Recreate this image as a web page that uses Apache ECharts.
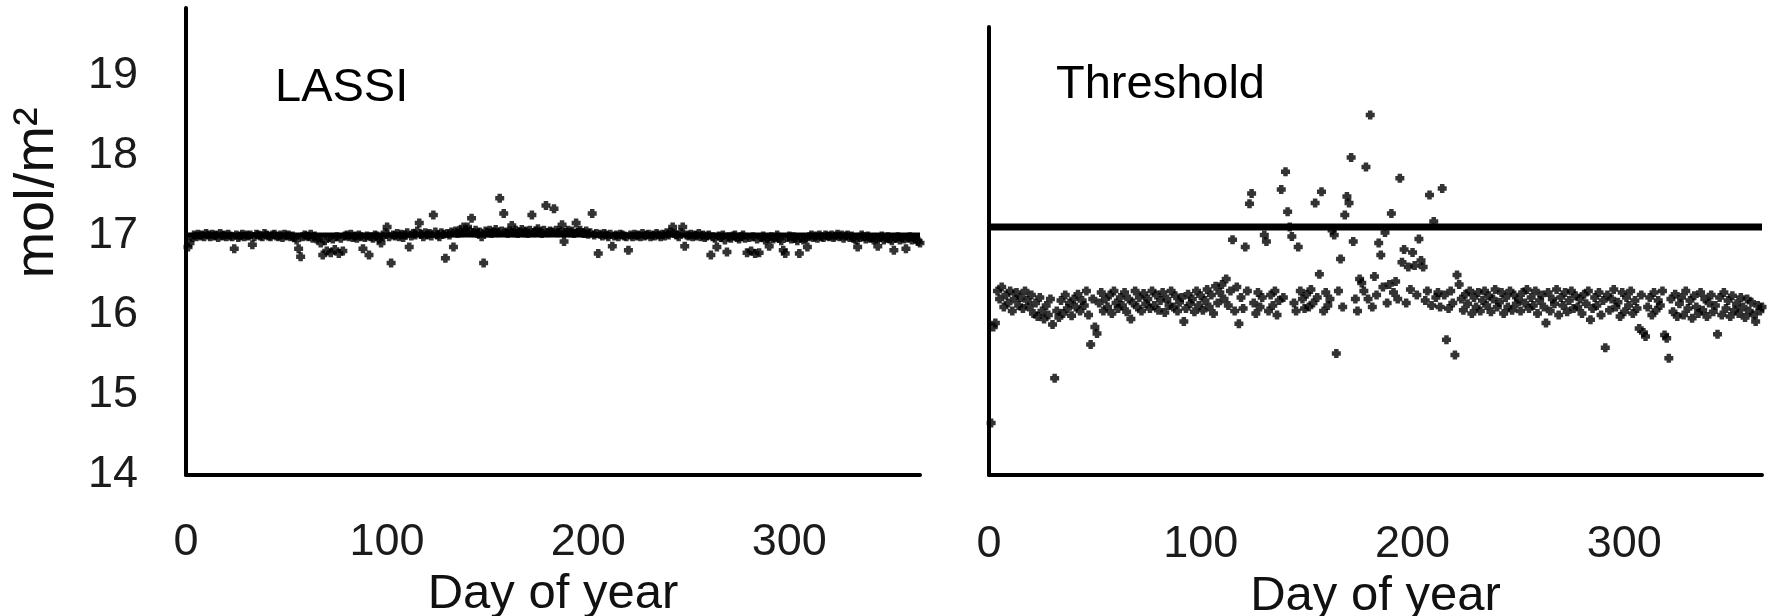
<!DOCTYPE html>
<html>
<head>
<meta charset="utf-8">
<title>LASSI / Threshold</title>
<script src="https://cdn.jsdelivr.net/npm/echarts@6/dist/echarts.min.js"></script>
<style>
  html, body { margin: 0; padding: 0; background: #fff; }
  #chart { width: 1772px; height: 616px; }
</style>
</head>
<body>
<div id="chart"></div>
<script>
// panel titles
var panelNames = ['LASSI', 'Threshold'];
// x axis: day of year, labelled ticks
var dayRange = [0, 365];
var dayTicks = [0, 100, 200, 300];
// y axis (mol/m2), labelled ticks; the right panel's axis line is a bit shorter
var yTicks = [14, 15, 16, 17, 18, 19];
var yRangeLassi = [14, 19.84];
var yRangeThreshold = [14, 19.6];
// horizontal line drawn in each panel
var lineLevels = [17.0, 17.1];

// LASSI, one value per day (day 1..365)
var lassiValues = [
  16.85, 16.9, 16.97, 17.0, 16.98, 17.01, 16.99, 17.0, 16.98, 17.02,
  17.0, 16.98, 17.01, 16.99, 17.0, 16.97, 17.02, 16.99, 17.0, 16.98,
  17.01, 16.99, 16.98, 16.83, 17.0, 16.97, 16.99, 17.01, 16.98, 17.0,
  16.99, 17.0, 16.88, 16.98, 17.01, 17.0, 16.99, 16.98, 17.02, 17.0,
  16.99, 16.98, 17.0, 17.01, 16.99, 16.98, 17.0, 16.97, 17.01, 16.99,
  17.0, 16.98, 16.99, 16.97, 16.94, 16.83, 16.73, 16.98, 17.0, 16.99,
  16.98, 17.01, 16.96, 16.99, 16.95, 16.97, 16.9, 16.75, 16.93, 16.8,
  16.97, 16.78, 16.95, 16.82, 16.98, 16.77, 16.96, 16.8, 16.99, 17.0,
  16.98, 17.01, 16.97, 16.99, 16.96, 17.0, 16.98, 16.83, 16.97, 16.99,
  16.75, 16.98, 16.96, 17.0, 16.99, 16.95, 16.9, 16.98, 17.03, 17.1,
  16.98, 16.65, 17.0, 16.99, 17.02, 16.98, 17.01, 16.97, 17.0, 17.03,
  16.85, 16.99, 17.02, 17.0, 17.05, 17.15, 17.01, 16.98, 17.03, 17.0,
  17.02, 16.99, 17.25, 17.04, 17.0, 16.98, 17.03, 17.01, 16.71, 17.02,
  17.0, 17.04, 16.85, 17.05, 17.02, 17.06, 17.03, 17.1, 17.04, 17.1,
  17.05, 17.21, 17.03, 17.06, 17.02, 17.04, 16.98, 16.65, 17.05, 17.03,
  17.06, 17.02, 17.04, 17.07, 17.03, 17.46, 17.05, 17.27, 17.04, 17.02,
  17.05, 17.12, 17.03, 17.06, 17.02, 17.04, 17.07, 17.03, 17.05, 17.02,
  17.06, 17.25, 17.03, 17.05, 17.08, 17.04, 17.02, 17.06, 17.37, 17.03,
  17.05, 17.04, 17.33, 17.06, 17.03, 17.05, 17.13, 16.92, 17.04, 17.06,
  17.03, 17.05, 17.02, 17.15, 17.04, 17.06, 17.03, 17.02, 17.05, 17.01,
  17.03, 17.27, 17.0, 17.02, 16.77, 17.01, 16.99, 17.02, 17.0, 16.98,
  17.01, 16.86, 16.99, 17.0, 16.98, 17.01, 17.0, 16.99, 16.98, 16.81,
  17.0, 16.98, 17.01, 16.99, 17.0, 16.98, 17.02, 16.99, 17.0, 17.01,
  16.98, 17.0, 16.99, 17.02, 17.0, 16.98, 17.01, 16.99, 17.03, 17.0,
  17.04, 17.1, 17.02, 17.0, 16.98, 17.03, 17.1, 16.86, 17.0, 16.99,
  17.01, 16.98, 17.0, 16.99, 17.02, 16.98, 17.0, 16.97, 16.99, 17.0,
  16.75, 16.98, 16.96, 16.85, 16.99, 16.97, 17.0, 16.94, 16.79, 16.98,
  16.96, 16.99, 17.0, 16.97, 16.95, 16.98, 17.0, 16.96, 16.78, 16.97,
  16.8, 16.98, 16.77, 16.95, 16.78, 16.97, 16.99, 16.94, 16.96, 16.86,
  16.98, 16.95, 16.97, 17.0, 16.96, 16.93, 16.81, 16.77, 16.97, 16.99,
  16.95, 16.98, 16.96, 16.93, 16.77, 16.97, 16.94, 16.96, 16.85, 16.98,
  17.0, 16.97, 16.99, 16.96, 17.0, 16.98, 16.97, 17.0, 16.99, 16.98,
  17.0, 16.97, 16.99, 17.01, 16.98, 17.0, 16.96, 16.99, 17.0, 16.97,
  16.99, 16.96, 16.94, 16.85, 16.97, 17.0, 16.98, 16.95, 16.99, 16.96,
  16.97, 16.94, 16.95, 16.86, 16.97, 16.99, 16.94, 16.96, 16.98, 16.95,
  16.93, 16.81, 16.96, 16.98, 16.94, 16.97, 16.95, 16.83, 16.96, 16.98,
  16.94, 16.97, 16.95, 16.92, 16.9
];

// Threshold, one value per day (day 1..365)
var thresholdValues = [
  14.65, 15.85, 15.9, 16.3, 16.2, 16.35, 16.1, 16.25, 16.15, 16.3,
  16.05, 16.2, 16.28, 16.12, 16.22, 16.08, 16.3, 16.18, 16.1, 16.25,
  16.02, 16.15, 15.98, 16.22, 16.05, 15.95, 16.12, 16.0, 16.2, 15.88,
  15.21, 16.05, 15.97, 16.18, 16.02, 16.25, 16.08, 16.15, 15.99, 16.2,
  16.1, 16.26, 16.05, 16.18, 16.12, 16.3, 16.0, 15.63, 16.2, 15.85,
  15.77, 16.15, 16.28, 16.05, 16.2, 16.1, 16.25, 16.02, 16.3, 16.15,
  16.08, 16.22, 16.12, 16.28, 16.04, 16.2, 15.95, 16.15, 16.3, 16.1,
  16.22, 16.05, 16.27, 16.14, 16.2, 16.08, 16.3, 16.12, 16.25, 16.06,
  16.18, 16.28, 16.03, 16.2, 16.12, 16.3, 16.1, 16.24, 16.05, 16.16,
  16.22, 15.92, 16.08, 16.26, 16.14, 16.2, 16.04, 16.3, 16.12, 16.24,
  16.06, 16.18, 16.32, 16.1, 16.25, 16.02, 16.36, 16.15, 16.28, 16.38,
  16.2, 16.45, 16.12, 16.3, 16.94, 16.05, 16.35, 15.89, 16.22, 16.08,
  16.85, 16.3, 17.39, 17.52, 16.15, 16.02, 16.28, 16.1, 16.22, 17.0,
  16.92, 16.05, 16.25, 16.12, 16.3, 16.0, 16.18, 17.57, 16.22, 17.79,
  17.29, 17.1, 16.98, 16.15, 16.05, 16.85, 16.3, 16.2, 16.08, 16.26,
  16.1, 16.32, 16.15, 17.4, 16.22, 16.51, 17.54, 16.05, 16.28, 16.12,
  16.2, 17.06, 17.0, 15.52, 16.3, 16.7, 16.1, 17.25, 17.48, 17.4,
  17.97, 16.92, 16.2, 16.05, 16.45, 16.4, 16.3, 17.85, 16.2, 18.5,
  16.1, 16.48, 16.25, 16.9, 16.75, 16.35, 17.03, 16.15, 16.38, 17.27,
  16.28, 16.42, 16.2, 17.71, 16.66, 16.82, 16.15, 16.6, 16.32, 16.78,
  16.62, 16.25, 16.95, 16.68, 16.6, 16.18, 16.3, 17.5, 16.12, 17.17,
  16.22, 16.28, 16.1, 17.58, 16.25, 15.69, 16.08, 16.3, 16.15, 15.5,
  16.5, 16.38, 16.2, 16.06, 16.26, 16.14, 16.3, 16.02, 16.22, 16.1,
  16.28, 16.05, 16.18, 16.3, 16.12, 16.24, 16.04, 16.2, 16.32, 16.1,
  16.16, 16.28, 16.02, 16.22, 16.1, 16.3, 16.06, 16.25, 16.14, 16.2,
  16.05, 16.28, 16.15, 16.32, 16.08, 16.22, 16.12, 16.3, 16.02, 16.18,
  16.25, 16.1, 15.9, 16.28, 16.05, 16.2, 16.14, 16.32, 16.0, 16.22,
  16.12, 16.28, 16.04, 16.18, 16.3, 16.08, 16.24, 16.1, 16.2, 16.02,
  16.26, 16.14, 16.3, 15.94, 16.08, 16.22, 16.12, 16.28, 16.0, 16.18,
  15.59, 16.25, 16.06, 16.2, 16.32, 16.1, 16.16, 15.98, 16.28, 16.04,
  16.22, 16.12, 16.3, 16.02, 16.18, 16.08, 15.83, 16.25, 15.78, 15.73,
  16.1, 16.22, 16.0, 16.28, 16.06, 16.18, 16.12, 16.3, 15.75, 15.71,
  15.46, 16.2, 16.04, 16.26, 15.98, 16.14, 16.22, 16.0, 16.3, 16.08,
  16.18, 15.96, 16.24, 16.1, 16.02, 16.28, 16.06, 16.2, 15.98, 16.15,
  16.25, 16.04, 16.12, 15.76, 16.22, 16.0, 16.28, 16.08, 16.18, 15.98,
  16.24, 16.06, 16.14, 16.02, 16.22, 16.1, 15.97, 16.2, 16.05, 16.16,
  16.0, 15.92, 16.12, 16.05, 16.1
];

var FONT = '"Liberation Sans", Arial, sans-serif';
// small chunky plus, the way the original markers look
var plusSymbol = 'path://M2,0H6V2H8V6H6V8H2V6H0V2H2Z';

// [day, value] pairs, day counted from 1
function toPoints(values) {
  return values.map(function (v, i) { return [i + 1, v]; });
}

function xAxisFor(gridIndex, labelMargin, nameGap) {
  return {
    type: 'value',
    gridIndex: gridIndex,
    min: dayRange[0],
    max: dayRange[1],
    interval: 100,
    name: 'Day of year',
    nameLocation: 'middle',
    nameGap: nameGap,
    nameTextStyle: { fontSize: 49, fontFamily: FONT, color: '#111' },
    axisLine: { lineStyle: { color: '#000', width: 4 } },
    axisTick: { show: false },
    splitLine: { show: false },
    axisLabel: {
      margin: labelMargin,
      fontSize: 45,
      fontFamily: FONT,
      color: '#1b1b1b',
      formatter: function (v) { return dayTicks.indexOf(v) >= 0 ? String(v) : ''; }
    }
  };
}

function yAxisFor(gridIndex, range, showLabels) {
  return {
    type: 'value',
    gridIndex: gridIndex,
    min: range[0],
    max: range[1],
    interval: 1,
    axisLine: { show: true, onZero: false, lineStyle: { color: '#000', width: 4 } },
    axisTick: { show: false },
    splitLine: { show: false },
    axisLabel: {
      show: showLabels,
      margin: 48,
      fontSize: 45,
      fontFamily: FONT,
      color: '#1b1b1b',
      formatter: function (v) { return yTicks.indexOf(v) >= 0 ? String(v) : ''; }
    }
  };
}

function scatterFor(index, values) {
  return {
    type: 'scatter',
    xAxisIndex: index,
    yAxisIndex: index,
    symbol: plusSymbol,
    symbolSize: 9,
    itemStyle: { color: '#000' },
    data: toPoints(values)
  };
}

function levelLine(index, level, width) {
  return {
    type: 'line',
    xAxisIndex: index,
    yAxisIndex: index,
    showSymbol: false,
    lineStyle: { color: '#000', width: width },
    data: [[dayRange[0], level], [dayRange[1], level]],
    z: 3
  };
}

var myChart = echarts.init(document.getElementById('chart'));
myChart.setOption({
  animation: false,
  backgroundColor: '#fff',
  title: [
    { text: panelNames[0], left: 270, top: 60, textStyle: { fontSize: 47, fontWeight: 'normal', color: '#000', fontFamily: FONT } },
    { text: panelNames[1], left: 1051, top: 57, textStyle: { fontSize: 47, fontWeight: 'normal', color: '#000', fontFamily: FONT } }
  ],
  // fixed plot boxes, no automatic shrinking to fit labels
  grid: [
    { left: 186, top: 8, width: 734, height: 467, containLabel: false, outerBoundsMode: 'none' },
    { left: 989, top: 27, width: 773, height: 448, containLabel: false, outerBoundsMode: 'none' }
  ],
  xAxis: [xAxisFor(0, 45, 78), xAxisFor(1, 47, 84)],
  yAxis: [yAxisFor(0, yRangeLassi, true), yAxisFor(1, yRangeThreshold, false)],
  graphic: [{
    // y axis name, rotated, sits higher than the axis centre
    type: 'text',
    x: 38,
    y: 193,
    rotation: Math.PI / 2,
    style: {
      text: 'mol/m²',
      font: '56px ' + FONT,
      fill: '#111',
      align: 'center',
      verticalAlign: 'middle'
    }
  }],
  series: [
    levelLine(0, lineLevels[0], 5),
    scatterFor(0, lassiValues),
    levelLine(1, lineLevels[1], 7),
    scatterFor(1, thresholdValues)
  ]
});
window.onresize = myChart.resize;
</script>
</body>
</html>
